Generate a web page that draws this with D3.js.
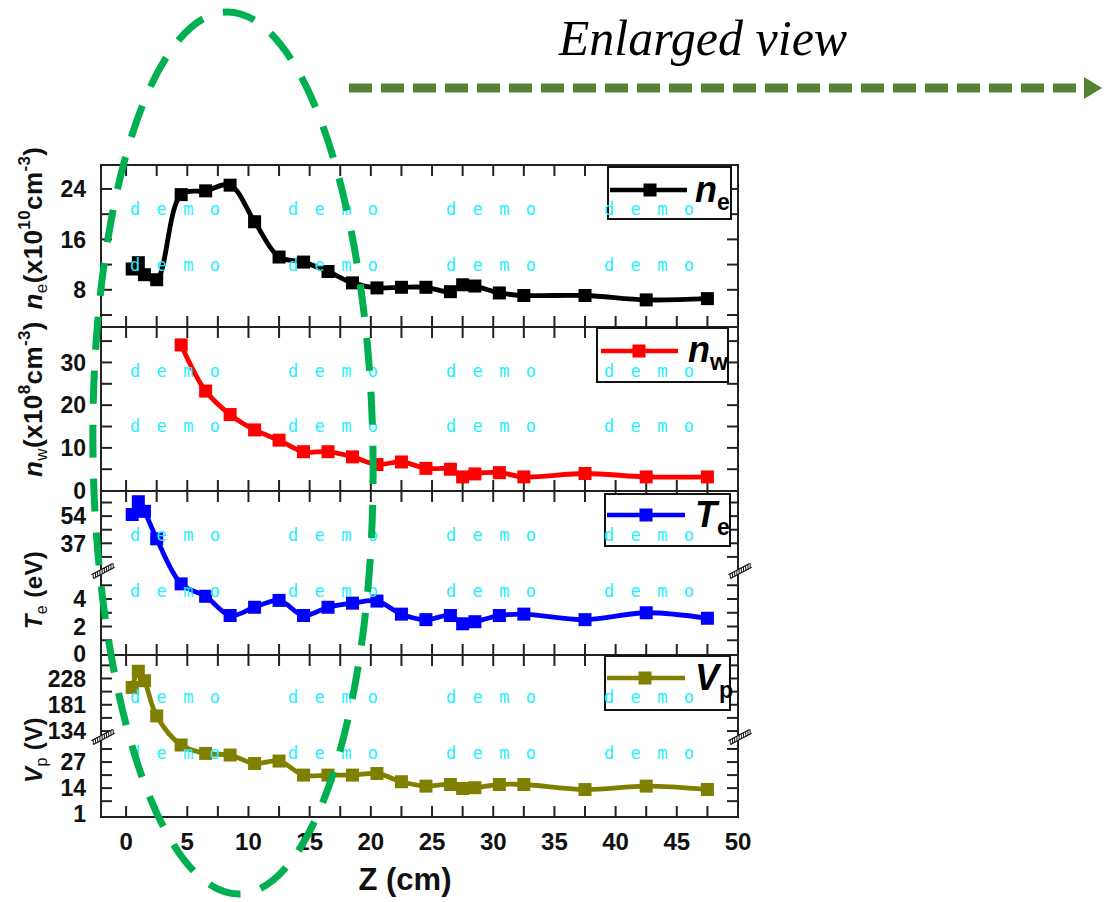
<!DOCTYPE html>
<html>
<head>
<meta charset="utf-8">
<script src="https://cdn.jsdelivr.net/npm/d3@7/dist/d3.min.js"></script>
<style>
  html, body { margin: 0; padding: 0; background: #fff; }
  svg { display: block; font-family: "Liberation Sans", Arial, sans-serif; }
</style>
</head>
<body>
<svg id="chart" width="1106" height="902"></svg>
<script>
// Axial position of the probe (cm)
const zPos = [0.5, 1, 1.5, 2.5, 4.5, 6.5, 8.5, 10.5, 12.5, 14.5, 16.5, 18.5, 20.5,
              22.5, 24.5, 26.5, 27.5, 28.5, 30.5, 32.5, 37.5, 42.5, 47.5];
// Plasma density n_e (x10^10 cm^-3)
const neVals = [11.3, 12.3, 10.4, 9.6, 23.1, 23.7, 24.6, 18.8, 13.2, 12.4, 10.9, 9.1, 8.3,
                8.4, 8.4, 7.7, 8.8, 8.6, 7.5, 7.1, 7.1, 6.4, 6.6];
// Wave-region density n_w (x10^8 cm^-3), measured from z = 4.5 cm on
const nwZ = zPos.slice(4);
const nwVals = [34.1, 23.3, 17.8, 14.2, 11.8, 9.1, 9.1, 7.9, 6.1,
                6.7, 5.2, 5.0, 3.2, 3.9, 4.2, 3.2, 4.0, 3.2, 3.2];
// Electron temperature T_e (eV)
const teVals = [55, 63, 57, 39.8, 5.1, 4.2, 2.8, 3.4, 3.9, 2.8, 3.4, 3.7, 3.85,
                2.9, 2.5, 2.8, 2.2, 2.35, 2.8, 2.9, 2.5, 3.0, 2.6];
// Plasma potential V_p (V)
const vpVals = [212, 241, 224, 161, 35.5, 31.3, 30.5, 26.3, 27.5, 20.5, 20.5, 20.5, 21.3,
                17.2, 15.0, 15.8, 13.8, 14.2, 15.8, 15.8, 13.3, 15.0, 13.3];

// Tick values and labels
const xTickVals = d3.range(0, 50.01, 2.5);
const xTickLabels = [0, 5, 10, 15, 20, 25, 30, 35, 40, 45, 50];
const neTicks = [4, 8, 12, 16, 20, 24];
const neLabels = [8, 16, 24];
const nwTicks = [5, 10, 15, 20, 25, 30, 35];
const nwLabels = [0, 10, 20, 30];
const teTicks = [1, 2, 3, 4, 5, 28.5, 37, 45.5, 54, 62.5];
const teLabels = [0, 2, 4, 37, 54];
const vpTicks = [7.5, 14, 20.5, 27, 33.5, 134, 157.5, 181, 204.5, 228, 251.5];
const vpLabels = [1, 14, 27, 134, 181, 228];

const svg = d3.select("#chart");
const left = 101, right = 738;

const x = d3.scaleLinear().domain([-2.05, 50]).range([left, right]);

// Stacked panels; the T_e and V_p axes are broken (piecewise scales)
const panels = [
  { key: "ne", top: 165, bottom: 327, color: "#000000",
    y: d3.scaleLinear().domain([2.1, 27.8]).range([327, 165]),
    xs: zPos, vals: neVals, ticks: neTicks, labels: neLabels,
    legend: { box: [608, 167, 123, 52], ly: 190, lx: [610, 687], mx: 650, tx: 695, tb: 202, main: "n", sub: "e" },
    title: { cy: 228 }, demo: [215, 271] },
  { key: "nw", top: 327, bottom: 491, color: "#ff0000",
    y: d3.scaleLinear().domain([-0.1, 38.3]).range([491, 327]),
    xs: nwZ, vals: nwVals, ticks: nwTicks, labels: nwLabels,
    legend: { box: [597, 328, 131, 54], ly: 351, lx: [601, 678], mx: 639, tx: 688, tb: 362, main: "n", sub: "w" },
    title: { cy: 399 }, demo: [377, 432] },
  { key: "te", top: 491, bottom: 655, color: "#0000ff",
    y: d3.scaleLinear().domain([-0.07, 6, 20, 69.7]).range([655, 571.5, 570.5, 491]),
    brk: 571,
    xs: zPos, vals: teVals, ticks: teTicks, labels: teLabels,
    legend: { box: [605, 494, 125, 52], ly: 515, lx: [607, 685], mx: 646, tx: 695, tb: 527, main: "T", sub: "e" },
    title: { cy: 590 }, demo: [541, 597] },
  { key: "vp", top: 655, bottom: 817, color: "#808000",
    y: d3.scaleLinear().domain([-0.4, 38, 118, 270]).range([817, 740, 740, 655]),
    brk: 737,
    xs: zPos, vals: vpVals, ticks: vpTicks, labels: vpLabels,
    legend: { box: [605, 656, 125, 54], ly: 678, lx: [607, 685], mx: 645, tx: 695, tb: 690, main: "V", sub: "p" },
    title: { cy: 750 }, demo: [703, 759] }
];

const axisColor = "#222";
const tickLen = 11;

// Frames, ticks and tick labels
panels.forEach(p => {
  const g = svg.append("g");
  // x ticks, inward on top and bottom edges
  xTickVals.forEach(v => {
    const px = x(v);
    g.append("line").attr("x1", px).attr("x2", px).attr("y1", p.bottom).attr("y2", p.bottom - tickLen)
      .attr("stroke", axisColor).attr("stroke-width", 2);
    g.append("line").attr("x1", px).attr("x2", px).attr("y1", p.top).attr("y2", p.top + tickLen)
      .attr("stroke", axisColor).attr("stroke-width", 2);
  });
  // y ticks, inward on left and right edges
  p.ticks.forEach(v => {
    const py = p.y(v);
    g.append("line").attr("x1", left).attr("x2", left + tickLen).attr("y1", py).attr("y2", py)
      .attr("stroke", axisColor).attr("stroke-width", 2);
    g.append("line").attr("x1", right).attr("x2", right - tickLen).attr("y1", py).attr("y2", py)
      .attr("stroke", axisColor).attr("stroke-width", 2);
  });
  // y tick labels
  p.labels.forEach(v => {
    g.append("text").attr("x", 86).attr("y", p.y(v)).attr("dy", "0.36em")
      .attr("text-anchor", "end").attr("font-size", 23).attr("font-weight", "bold")
      .attr("fill", "#111").text(v);
  });
  // frame
  g.append("rect").attr("x", left).attr("y", p.top).attr("width", right - left).attr("height", p.bottom - p.top)
    .attr("fill", "none").attr("stroke", axisColor).attr("stroke-width", 2);
});

// Axis-break marks
function breakMark(cx, cy) {
  const g = svg.append("g").attr("transform", `translate(${cx},${cy}) rotate(-28)`);
  g.append("rect").attr("x", -12).attr("y", -2.5).attr("width", 24).attr("height", 5).attr("fill", "#fff");
  g.append("line").attr("x1", -12).attr("x2", 12).attr("y1", -2.2).attr("y2", -2.2).attr("stroke", "#111").attr("stroke-width", 1.2);
  g.append("line").attr("x1", -12).attr("x2", 12).attr("y1", 2.2).attr("y2", 2.2).attr("stroke", "#111").attr("stroke-width", 1.2);
  d3.range(-11, 12, 2.5).forEach(t => {
    g.append("line").attr("x1", t - 1).attr("x2", t + 1).attr("y1", 2.2).attr("y2", -2.2)
      .attr("stroke", "#111").attr("stroke-width", 1);
  });
}
panels.filter(p => p.brk).forEach(p => { breakMark(left + 2, p.brk); breakMark(right + 2, p.brk); });

// x tick labels and axis title
xTickLabels.forEach(v => {
  svg.append("text").attr("x", x(v)).attr("y", 850).attr("text-anchor", "middle")
    .attr("font-size", 24).attr("font-weight", "bold").attr("fill", "#111").text(v);
});
svg.append("text").attr("x", 405).attr("y", 890).attr("text-anchor", "middle")
  .attr("font-size", 31).attr("font-weight", "bold").attr("fill", "#111")
  .text("Z (cm)");

// Data lines and square markers
const mk = 13;
panels.forEach(p => {
  const pts = p.xs.map((z, i) => [x(z), p.y(p.vals[i])]);
  const line = d3.line().curve(d3.curveCatmullRom.alpha(0.5));
  svg.append("path").attr("d", line(pts)).attr("fill", "none")
    .attr("stroke", p.color).attr("stroke-width", 4.8).attr("stroke-linejoin", "round");
  svg.append("g").selectAll("rect").data(pts).join("rect")
    .attr("x", d => d[0] - mk / 2).attr("y", d => d[1] - mk / 2)
    .attr("width", mk).attr("height", mk).attr("fill", p.color);
});

// Legends
panels.forEach(p => {
  const L = p.legend;
  const g = svg.append("g");
  g.append("rect").attr("x", L.box[0]).attr("y", L.box[1]).attr("width", L.box[2]).attr("height", L.box[3])
    .attr("fill", "#fff").attr("stroke", "#111").attr("stroke-width", 2);
  g.append("line").attr("x1", L.lx[0]).attr("x2", L.lx[1]).attr("y1", L.ly).attr("y2", L.ly)
    .attr("stroke", p.color).attr("stroke-width", 4.5);
  g.append("rect").attr("x", L.mx - 6.5).attr("y", L.ly - 6.5).attr("width", 13).attr("height", 13).attr("fill", p.color);
  const t = g.append("text").attr("x", L.tx).attr("y", L.tb).attr("fill", "#000").attr("font-weight", "bold");
  t.append("tspan").attr("font-style", "italic").attr("font-size", 36).text(L.main);
  t.append("tspan").attr("font-size", 23).attr("dy", 8).text(L.sub);
});

// Rotated y-axis titles
function yTitle(cy, size, parts) {
  const sm = Math.round(size * 0.66);
  const t = svg.append("text").attr("transform", `translate(42,${cy}) rotate(-90)`)
    .attr("text-anchor", "middle").attr("font-weight", "bold").attr("fill", "#111")
    .attr("font-size", size).style("letter-spacing", "0.4px");
  parts.forEach(([txt, style]) => {
    const s = t.append("tspan").text(txt);
    if (style === "it") s.attr("font-style", "italic");
    if (style === "sub") s.attr("font-size", sm).attr("dy", 5).attr("font-weight", "normal");
    if (style === "sup") s.attr("font-size", sm).attr("dy", -12);
    if (style === "base-after-sub") s.attr("dy", -5);
    if (style === "base-after-sup") s.attr("dy", 12);
  });
}
yTitle(panels[0].title.cy, 26, [["n", "it"], ["e", "sub"], ["(x10", "base-after-sub"], ["10", "sup"], ["cm", "base-after-sup"], ["-3", "sup"], [")", "base-after-sup"]]);
yTitle(panels[1].title.cy, 26, [["n", "it"], ["w", "sub"], ["(x10", "base-after-sub"], ["8", "sup"], ["cm", "base-after-sup"], ["-3", "sup"], [")", "base-after-sup"]]);
yTitle(panels[2].title.cy, 24, [["T", "it"], ["e", "sub"], [" (eV)", "base-after-sub"]]);
yTitle(panels[3].title.cy, 24, [["V", "it"], ["p", "sub"], [" (V)", "base-after-sub"]]);

// "demo" stamps across each panel
const demoCols = [130, 288, 446, 604];
panels.forEach(p => {
  p.demo.forEach(by => {
    demoCols.forEach(cx => {
      svg.append("text").attr("x", cx).attr("y", by)
        .style("font-family", '"DejaVu Sans Mono", monospace').attr("font-size", 17)
        .attr("fill", "#1ff0ff").attr("textLength", 90).attr("lengthAdjust", "spacing")
        .text("d e m o");
    });
  });
});

// Dashed highlight ellipse
svg.append("ellipse").attr("cx", 233).attr("cy", 453).attr("rx", 140).attr("ry", 441)
  .attr("transform", "rotate(-0.8,233,453)")
  .attr("fill", "none").attr("stroke", "#00b050").attr("stroke-width", 7)
  .attr("stroke-dasharray", "33 21");

// Arrow to the enlarged view
svg.append("line").attr("x1", 349).attr("x2", 1084).attr("y1", 88).attr("y2", 88)
  .attr("stroke", "#548235").attr("stroke-width", 9).attr("stroke-dasharray", "23 9");
svg.append("path").attr("d", "M1084,77 L1102,88 L1084,99 Z").attr("fill", "#548235");
svg.append("text").attr("x", 703).attr("y", 55).attr("text-anchor", "middle")
  .style("font-family", '"Liberation Serif", "Times New Roman", serif').attr("font-style", "italic")
  .attr("font-size", 50).attr("fill", "#000").text("Enlarged view");
</script>
</body>
</html>
